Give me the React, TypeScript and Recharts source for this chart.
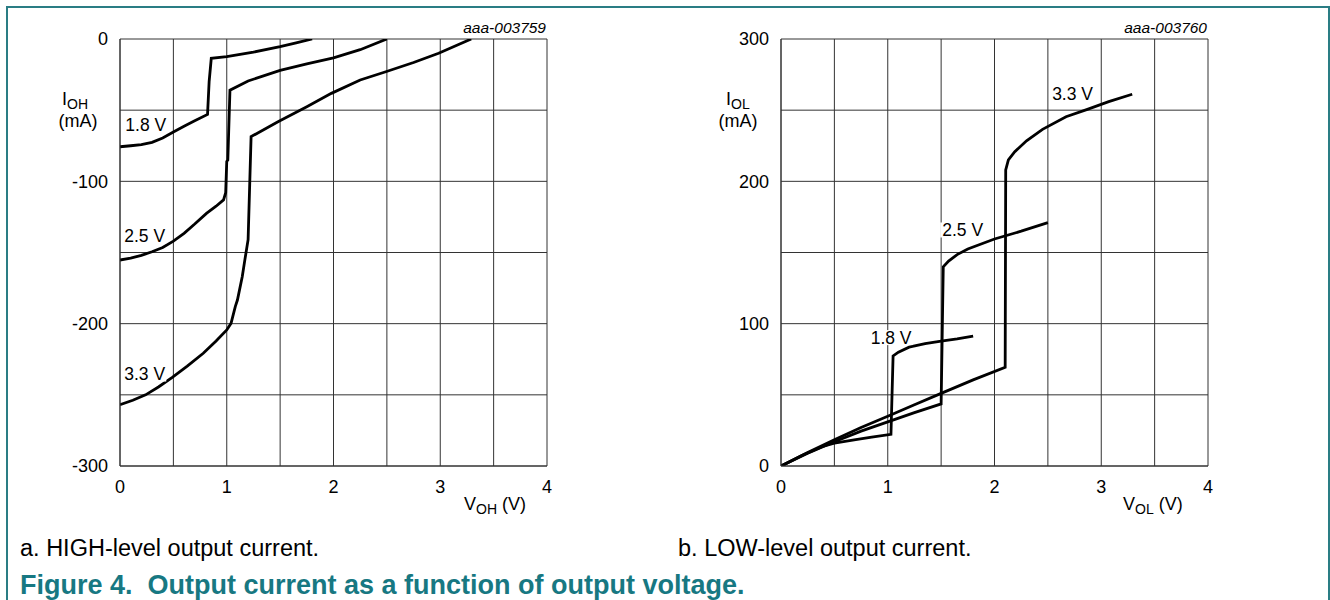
import React from 'react';
import { CartesianGrid, Line, LineChart, ReferenceDot, XAxis, YAxis } from 'recharts';

// Axis ticks (grid every 0.5 V / 50 mA, labels on whole values only)
const V_TICKS = [0, 0.5, 1, 1.5, 2, 2.5, 3, 3.5, 4];
const IOH_TICKS = [-300, -250, -200, -150, -100, -50, 0];
const IOL_TICKS = [0, 50, 100, 150, 200, 250, 300];

// a. HIGH-level output current, I_OH (mA) vs V_OH (V)
const IOH_18_V = [0, 0.1, 0.2, 0.3, 0.4, 0.5, 0.6, 0.7, 0.82, 0.835, 0.855, 1.0, 1.25, 1.5, 1.65, 1.8];
const IOH_18_I = [-75.7, -75, -74.2, -72.6, -69.5, -65.4, -61.3, -57.5, -53, -30, -13.6, -12.4, -9.2, -5.4, -2.7, 0];

const IOH_25_V = [0, 0.1, 0.2, 0.3, 0.4, 0.5, 0.6, 0.7, 0.81, 0.9, 0.97, 0.99, 1.0, 1.01, 1.03, 1.2, 1.5, 1.75, 2.0, 2.25, 2.5];
const IOH_25_I = [-155.3, -154, -152, -149.5, -146.5, -142, -136.5, -130, -122.5, -117.5, -113, -108, -86, -85, -36, -29.5, -22, -17.5, -13.3, -7.5, 0];

const IOH_33_V = [0, 0.12, 0.24, 0.36, 0.49, 0.63, 0.78, 0.9, 1.0, 1.04, 1.08, 1.1, 1.145, 1.17, 1.2, 1.228, 1.48, 1.75, 1.98, 2.25, 2.49, 2.75, 2.985, 3.29];
const IOH_33_I = [-257, -253.8, -250, -244.5, -237.7, -229.8, -220.8, -212.2, -204.4, -199.8, -188, -183.4, -167, -155, -141, -68.6, -58.1, -47.6, -38.2, -28.8, -23, -16.5, -10, 0];

// b. LOW-level output current, I_OL (mA) vs V_OL (V)
const IOL_18_V = [0, 0.2, 0.4, 0.5, 0.7, 0.85, 1.03, 1.05, 1.1, 1.2, 1.35, 1.5, 1.65, 1.8];
const IOL_18_I = [0, 7.5, 14, 16, 18.5, 20.3, 22.3, 77.3, 80, 83.5, 86, 87.8, 89.3, 91.3];

const IOL_25_V = [0, 0.25, 0.5, 0.75, 1.0, 1.25, 1.5, 1.52, 1.57, 1.65, 1.75, 2.0, 2.25, 2.5];
const IOL_25_I = [0, 9, 17, 24.5, 31, 37.5, 43.6, 140, 144, 148.5, 152.5, 159.5, 165, 171];

const IOL_33_V = [0, 0.25, 0.5, 0.75, 1.0, 1.25, 1.5, 1.8, 2.1, 2.105, 2.13, 2.19, 2.3, 2.45, 2.67, 2.87, 3.07, 3.29];
const IOL_33_I = [0, 9.5, 18.5, 27, 35, 43, 51, 60.5, 69.3, 208, 215, 220.8, 228.5, 236.5, 245.4, 250.6, 256, 261.2];

// Curve tags: text and anchor (V, mA) at the text baseline start
const IOH_TAGS = [
  { text: '1.8 V', v: 0.05, i: -64.6 },
  { text: '2.5 V', v: 0.04, i: -142.6 },
  { text: '3.3 V', v: 0.04, i: -239.6 },
];
const IOL_TAGS = [
  { text: '3.3 V', v: 2.54, i: 257 },
  { text: '2.5 V', v: 1.51, i: 161.6 },
  { text: '1.8 V', v: 0.84, i: 86 },
];

const zip = (vs: number[], is: number[]) => vs.map((v, k) => ({ v, i: is[k] }));

const FONT = '"Liberation Sans", Arial, sans-serif';
const TEAL = '#2a7d84';
const GRID = '#333';
const TICK = { fill: '#000', fontSize: 18, fontFamily: FONT };

const fmtV = (v: number) => (Number.isInteger(v) ? String(v) : '');
const fmtI = (v: number) => (v % 100 === 0 ? String(v) : '');

function Tag({ cx, cy, text }: { cx?: number; cy?: number; text: string }) {
  if (cx == null || cy == null) return null;
  return (
    <g>
      <rect x={cx - 2} y={cy - 13.5} width={44} height={15} fill="#fff" />
      <text x={cx} y={cy} fontSize={17.5} fontFamily={FONT} fill="#000">{text}</text>
    </g>
  );
}

type Tg = { text: string; v: number; i: number };

function Panel({ left, ticks, domain, series, tags }: {
  left: number; ticks: number[]; domain: [number, number];
  series: { v: number; i: number }[][]; tags: Tg[];
}) {
  return (
    <div style={{ position: 'absolute', left, top: 0 }}>
      <LineChart width={560} height={530} margin={{ top: 39, right: 13, bottom: 0, left: 0 }}>
        <CartesianGrid stroke={GRID} strokeWidth={1} />
        <XAxis
          type="number" dataKey="v" domain={[0, 4]} ticks={V_TICKS} interval={0}
          tickFormatter={fmtV} tickLine={false} tickSize={0} tickMargin={14}
          axisLine={{ stroke: GRID }} height={64} tick={TICK} allowDataOverflow
        />
        <YAxis
          type="number" domain={domain} ticks={ticks} interval={0}
          tickFormatter={fmtI} tickLine={false} tickSize={0} tickMargin={12}
          axisLine={{ stroke: GRID }} width={120} tick={TICK} allowDataOverflow
        />
        {tags.map((t) => (
          <ReferenceDot key={t.text} x={t.v} y={t.i} r={0}
            shape={(p: any) => <Tag cx={p.cx} cy={p.cy} text={t.text} />} />
        ))}
        {series.map((d, k) => (
          <Line key={k} data={d} dataKey="i" type="linear" stroke="#000" strokeWidth={2.8}
            dot={false} activeDot={false} isAnimationActive={false} />
        ))}
      </LineChart>
    </div>
  );
}

export default function App() {
  return (
    <div style={{ position: 'absolute', left: 0, top: 0, width: 1330, height: 600, background: '#fff', overflow: 'hidden' }}>
      <div style={{
        position: 'absolute', left: 6, top: 6, width: 1320, height: 610,
        borderTop: `2px solid ${TEAL}`, borderLeft: `2px solid ${TEAL}`, borderRight: `2px solid ${TEAL}`,
      }} />
      <Panel left={0} ticks={IOH_TICKS} domain={[-300, 0]}
        series={[zip(IOH_18_V, IOH_18_I), zip(IOH_25_V, IOH_25_I), zip(IOH_33_V, IOH_33_I)]}
        tags={IOH_TAGS} />
      <Panel left={661} ticks={IOL_TICKS} domain={[0, 300]}
        series={[zip(IOL_18_V, IOL_18_I), zip(IOL_25_V, IOL_25_I), zip(IOL_33_V, IOL_33_I)]}
        tags={IOL_TAGS} />
      <svg width={1330} height={600} style={{ position: 'absolute', left: 0, top: 0, pointerEvents: 'none' }}
        fontFamily={FONT}>
        <text x={546} y={33} fontSize={15.5} fontStyle="italic" textAnchor="end">aaa-003759</text>
        <text x={1207} y={33} fontSize={15.5} fontStyle="italic" textAnchor="end">aaa-003760</text>

        <text x={62} y={105} fontSize={18}>I<tspan fontSize={14} dy={4}>OH</tspan></text>
        <text x={78} y={127} fontSize={18} textAnchor="middle">(mA)</text>
        <text x={726} y={105} fontSize={18}>I<tspan fontSize={14} dy={4}>OL</tspan></text>
        <text x={738} y={127} fontSize={18} textAnchor="middle">(mA)</text>

        <text x={464} y={510} fontSize={18}>V<tspan fontSize={14} dy={4}>OH</tspan><tspan dy={-4}> (V)</tspan></text>
        <text x={1123} y={510} fontSize={18}>V<tspan fontSize={14} dy={4}>OL</tspan><tspan dy={-4}> (V)</tspan></text>

        <text x={20} y={556} fontSize={23.5}>a. HIGH-level output current.</text>
        <text x={678} y={556} fontSize={23.5}>b. LOW-level output current.</text>
        <text x={20} y={594} fontSize={27} fontWeight="bold" fill="#177882">
          Figure 4.{'\u00a0\u00a0'}Output current as a function of output voltage.
        </text>
      </svg>
    </div>
  );
}
